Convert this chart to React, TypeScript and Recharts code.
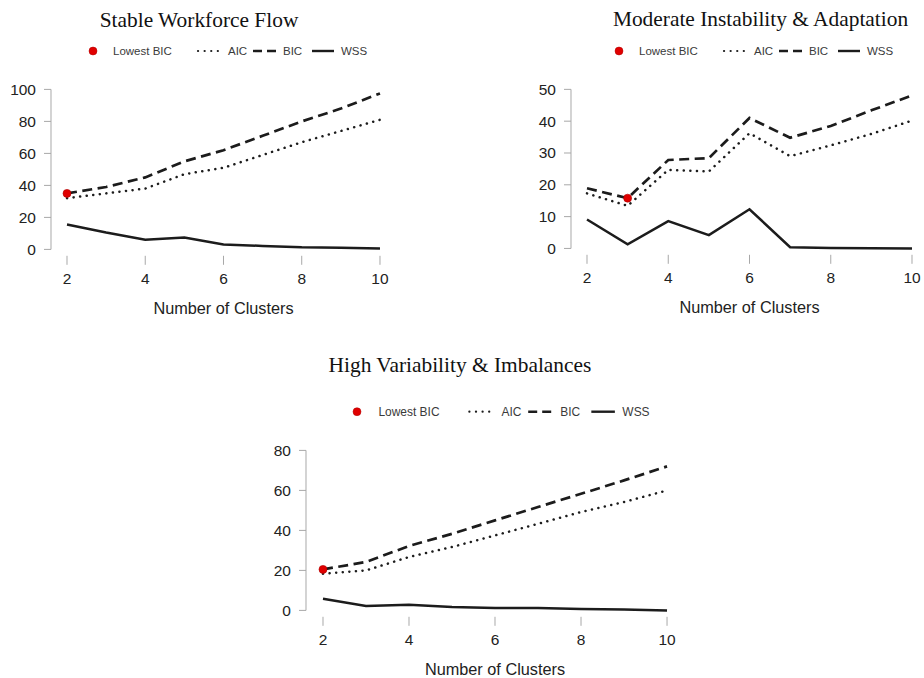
import React from "react";
import { LineChart, Line, XAxis, YAxis, ReferenceDot, ReferenceLine } from "recharts";

// number of clusters (k)
const clusters = [2, 3, 4, 5, 6, 7, 8, 9, 10];
const xTicks = [2, 4, 6, 8, 10];

// Stable Workforce Flow
const stableAIC = [32, 35, 38, 47, 51, 59, 67, 74, 81];
const stableBIC = [35, 39, 45, 55, 62, 71, 80, 88, 97.5];
const stableWSS = [15.6, 10.5, 6, 7.5, 3, 2.2, 1.3, 1, 0.6];
const stableTicks = [0, 20, 40, 60, 80, 100];

// Moderate Instability & Adaptation
const moderateAIC = [17.3, 13.4, 24.7, 24.2, 36.2, 29, 32.4, 36, 40.2];
const moderateBIC = [18.9, 15.8, 27.8, 28.4, 41, 34.8, 38.5, 43.4, 48.1];
const moderateWSS = [9.1, 1.3, 8.6, 4.2, 12.3, 0.4, 0.1, 0.05, 0];
const moderateTicks = [0, 10, 20, 30, 40, 50];

// High Variability & Imbalances
const highAIC = [18.3, 20, 26.7, 31.7, 37.5, 43.3, 49.2, 54.2, 60];
const highBIC = [20.5, 24.2, 32.2, 38.3, 45, 51.7, 58.3, 65, 72];
const highWSS = [5.8, 2.2, 2.8, 1.7, 1.2, 1.2, 0.7, 0.5, 0];
const highTicks = [0, 20, 40, 60, 80];

const SANS = "'Liberation Sans', Arial, sans-serif";
const SERIF = "'Liberation Serif', 'Times New Roman', serif";
const AXIS_GRAY = "#a8a8a8";
const INK = "#1c1c1c";

const build = (aic: number[], bic: number[], wss: number[]) =>
  clusters.map((k, i) => ({ k, aic: aic[i], bic: bic[i], wss: wss[i] }));

interface Box {
  l: number; // page x of y-axis / plot left
  r: number; // plot right
  t: number; // plot top
  b: number; // plot bottom
}

interface PanelProps {
  data: { k: number; aic: number; bic: number; wss: number }[];
  box: Box;
  xDomain: [number, number];
  yDomain: [number, number];
  yTicks: number[];
}

const YW = 50;
const XH = 30;

function Panel({ data, box, xDomain, yDomain, yTicks }: PanelProps) {
  const width = box.r - box.l + YW + 4;
  const height = box.b - box.t + 10 + XH;
  const best = data.reduce((m, d) => (d.bic < m.bic ? d : m), data[0]);
  const top = yTicks[yTicks.length - 1];
  return (
    <div style={{ position: "absolute", left: box.l - YW, top: box.t - 10 }}>
      <LineChart
        width={width}
        height={height}
        data={data}
        margin={{ top: 10, right: 4, left: 0, bottom: 0 }}
      >
        <XAxis
          dataKey="k"
          type="number"
          domain={xDomain}
          ticks={xTicks}
          interval={0}
          allowDataOverflow
          axisLine={false}
          tickLine={{ stroke: AXIS_GRAY }}
          tickSize={9}
          tickMargin={8}
          height={XH}
          tick={{ fill: "#222", fontSize: 15.5, fontFamily: SANS }}
        />
        <YAxis
          type="number"
          domain={yDomain}
          ticks={yTicks}
          interval={0}
          allowDataOverflow
          axisLine={false}
          tickLine={{ stroke: AXIS_GRAY }}
          tickSize={7}
          tickMargin={8}
          width={YW}
          tick={{ fill: "#222", fontSize: 15.5, fontFamily: SANS }}
        />
        <ReferenceLine
          segment={[
            { x: xDomain[0], y: 0 },
            { x: xDomain[0], y: top },
          ]}
          stroke={AXIS_GRAY}
          ifOverflow="visible"
        />
        <Line type="linear" dataKey="aic" stroke={INK} strokeWidth={2.5} strokeDasharray="0.1 6.5" strokeLinecap="round" dot={false} isAnimationActive={false} />
        <Line type="linear" dataKey="bic" stroke={INK} strokeWidth={2.7} strokeDasharray="10 5.5" dot={false} isAnimationActive={false} />
        <Line type="linear" dataKey="wss" stroke={INK} strokeWidth={2.5} dot={false} isAnimationActive={false} />
        <ReferenceDot x={best.k} y={best.bic} r={4} fill="#e00000" stroke="#b00000" strokeWidth={0.6} ifOverflow="visible" />
      </LineChart>
    </div>
  );
}

function LegendRow({ x, y, s = 1 }: { x: number; y: number; s?: number }) {
  const fs = 11.5 * (s > 1 ? 1.04 : 1);
  const txt = { fontSize: fs, fontFamily: SANS, fill: "#3a3a3a", dominantBaseline: "central" as const };
  return (
    <g>
      <circle cx={x} cy={y} r={4} fill="#e00000" stroke="#b00000" strokeWidth={0.5} />
      <text x={x + 20 * s} y={y} {...txt}>Lowest BIC</text>
      <line x1={x + 105 * s} x2={x + 125 * s} y1={y} y2={y} stroke={INK} strokeWidth={2.2} strokeDasharray="0.1 6.5" strokeLinecap="round" />
      <text x={x + 135 * s} y={y} {...txt}>AIC</text>
      <line x1={x + 160 * s} x2={x + 183 * s} y1={y} y2={y} stroke={INK} strokeWidth={2.4} strokeDasharray="9 5" />
      <text x={x + 190 * s} y={y} {...txt}>BIC</text>
      <line x1={x + 219 * s} x2={x + 241 * s} y1={y} y2={y} stroke={INK} strokeWidth={2.4} />
      <text x={x + 248 * s} y={y} {...txt}>WSS</text>
    </g>
  );
}

export default function App() {
  const titleStyle = { fontSize: 21.4, fontFamily: SERIF, fill: "#111" };
  const axisTitle = { fontSize: 16.3, fontFamily: SANS, fill: "#222" };
  return (
    <div
      style={{
        position: "absolute",
        left: 0,
        top: 0,
        width: 924,
        height: 678,
        background: "#fff",
        overflow: "hidden",
      }}
    >
      <Panel
        data={build(stableAIC, stableBIC, stableWSS)}
        box={{ l: 51, r: 392.5, t: 82.6, b: 255.4 }}
        xDomain={[1.591, 10.32]}
        yDomain={[-4, 104]}
        yTicks={stableTicks}
      />
      <Panel
        data={build(moderateAIC, moderateBIC, moderateWSS)}
        box={{ l: 571, r: 925, t: 82.6, b: 254.4 }}
        xDomain={[1.606, 10.32]}
        yDomain={[-2, 52]}
        yTicks={moderateTicks}
      />
      <Panel
        data={build(highAIC, highBIC, highWSS)}
        box={{ l: 306, r: 680.8, t: 443.6, b: 616.4 }}
        xDomain={[1.605, 10.32]}
        yDomain={[-3.2, 83.2]}
        yTicks={highTicks}
      />
      <svg width={924} height={678} style={{ position: "absolute", left: 0, top: 0, pointerEvents: "none" }}>
        <text x={199} y={26.7} textAnchor="middle" {...titleStyle}>Stable Workforce Flow</text>
        <text x={760.5} y={26} textAnchor="middle" {...titleStyle}>Moderate Instability &amp; Adaptation</text>
        <text x={460} y={371.7} textAnchor="middle" {...titleStyle}>High Variability &amp; Imbalances</text>
        <LegendRow x={93} y={51} />
        <LegendRow x={619} y={51} />
        <LegendRow x={357} y={411.7} s={1.07} />
        <text x={223.5} y={314} textAnchor="middle" {...axisTitle}>Number of Clusters</text>
        <text x={749.5} y={312.7} textAnchor="middle" {...axisTitle}>Number of Clusters</text>
        <text x={495} y={675} textAnchor="middle" {...axisTitle}>Number of Clusters</text>
      </svg>
    </div>
  );
}
